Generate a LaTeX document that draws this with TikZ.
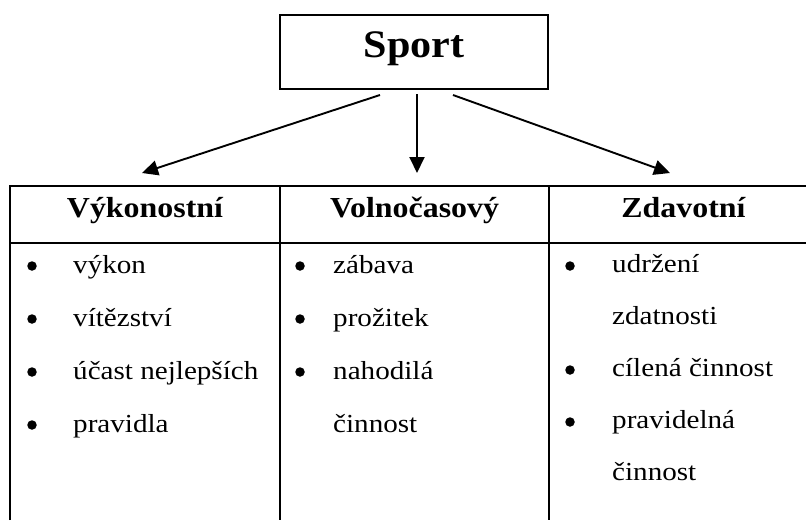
\documentclass[tikz,border=0pt]{standalone}
\usepackage{fontspec}
\setmainfont{Liberation Serif}
\usetikzlibrary{arrows.meta}
\newcommand\hstretch[2]{\scalebox{#1}[1]{#2}}
\tikzset{
  boxline/.style={line width=2.6pt},
  tabline/.style={line width=2.6pt},
  conn/.style={line width=1.9pt,-{Triangle[length=16pt,width=15pt]}},
  titletext/.style={anchor=base,inner sep=0pt,font=\fontsize{39}{39}\selectfont\bfseries},
  headtext/.style={anchor=base,inner sep=0pt,font=\fontsize{29}{29}\selectfont\bfseries},
  itemtext/.style={anchor=base west,inner sep=0pt,font=\fontsize{26}{26}\selectfont},
  bulletdot/.style={circle,fill=black,inner sep=0pt,minimum size=9.5pt}
}
\begin{document}
\begin{tikzpicture}[x=1pt,y=-1pt]
\useasboundingbox (0,0) rectangle (806,520);
% title box
\node[draw,boxline,minimum width=268pt,minimum height=74pt,inner sep=0pt] (sport) at (414,52) {};
\node[titletext] (sportlbl) at (414,57) {\hstretch{1.08}{Sport}};
% table
\draw[tabline] (10,520) -- (10,186) -- (806,186);
\draw[tabline] (10,243) -- (806,243);
\draw[tabline] (280,186) -- (280,520);
\draw[tabline] (549,186) -- (549,520);
% headers
\node[headtext] (h1) at (145,217) {\hstretch{1.1}{Výkonostní}};
\node[headtext] (h2) at (414.5,217) {\hstretch{1.1}{Volnočasový}};
\node[headtext] (h3) at (683.5,217) {\hstretch{1.1}{Zdavotní}};
% arrows
\coordinate (s1) at (380,95);
\coordinate (s2) at (417,94);
\coordinate (s3) at (453,95);
\coordinate (t1) at (142,173);
\coordinate (t2) at (417,173);
\coordinate (t3) at (670,173);
\draw[conn] (s1) -- (t1);
\draw[conn] (s2) -- (t2);
\draw[conn] (s3) -- (t3);
% column 1
\node[bulletdot] (b11) at (32,266) {};
\node[bulletdot] (b12) at (32,319) {};
\node[bulletdot] (b13) at (32,372) {};
\node[bulletdot] (b14) at (32,425) {};
\node[itemtext] (i11) at (73,273) {\hstretch{1.12}{výkon}};
\node[itemtext] (i12) at (73,326) {\hstretch{1.12}{vítězství}};
\node[itemtext] (i13) at (73,379) {\hstretch{1.12}{účast nejlepších}};
\node[itemtext] (i14) at (73,432) {\hstretch{1.12}{pravidla}};
% column 2
\node[bulletdot] (b21) at (300,266) {};
\node[bulletdot] (b22) at (300,319) {};
\node[bulletdot] (b23) at (300,372) {};
\node[itemtext] (i21) at (333,273) {\hstretch{1.12}{zábava}};
\node[itemtext] (i22) at (333,326) {\hstretch{1.12}{prožitek}};
\node[itemtext] (i23) at (333,379) {\hstretch{1.12}{nahodilá}};
\node[itemtext] (i24) at (333,432) {\hstretch{1.12}{činnost}};
% column 3
\node[bulletdot] (b31) at (570,266) {};
\node[bulletdot] (b32) at (570,370) {};
\node[bulletdot] (b33) at (570,422) {};
\node[itemtext] (i31) at (612,272) {\hstretch{1.12}{udržení}};
\node[itemtext] (i32) at (612,324) {\hstretch{1.12}{zdatnosti}};
\node[itemtext] (i33) at (612,376) {\hstretch{1.12}{cílená činnost}};
\node[itemtext] (i34) at (612,428) {\hstretch{1.12}{pravidelná}};
\node[itemtext] (i35) at (612,480) {\hstretch{1.12}{činnost}};
\end{tikzpicture}
\end{document}
